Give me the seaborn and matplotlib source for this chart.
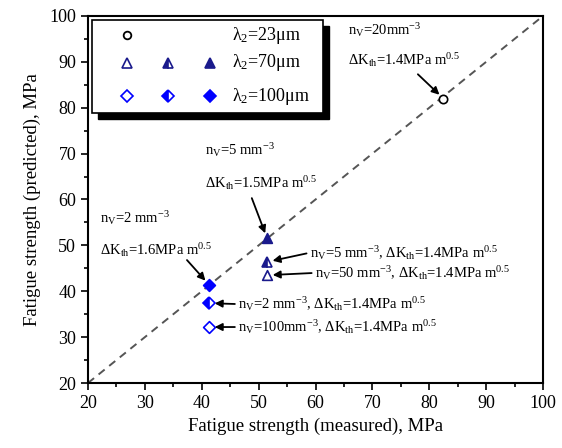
import matplotlib
matplotlib.use("Agg")
import matplotlib.pyplot as plt
import seaborn as sns
import pandas as pd
from matplotlib.patches import Rectangle
from matplotlib.ticker import MultipleLocator

# ---- data ----
meas_23 = [82.5]
pred_23 = [82.0]
meas_70 = [51.5, 51.5, 51.5]
pred_70 = [51.5, 46.4, 43.5]
fill_70 = ["full", "left", "none"]
meas_100 = [41.3, 41.3, 41.3]
pred_100 = [41.4, 37.4, 32.2]
fill_100 = ["full", "left", "none"]
diag = [20, 100]
xticks = [20, 30, 40, 50, 60, 70, 80, 90, 100]
yticks = [20, 30, 40, 50, 60, 70, 80, 90, 100]
legend_labels = [r"$\lambda_2$=23$\mu$m", r"$\lambda_2$=70$\mu$m", r"$\lambda_2$=100$\mu$m"]

sns.set_theme(style="ticks")
plt.rcParams["font.family"] = ["Liberation Serif", "DejaVu Serif"]
plt.rcParams["mathtext.fontset"] = "custom"
plt.rcParams["mathtext.rm"] = "Liberation Serif"
plt.rcParams["mathtext.it"] = "Liberation Serif:italic"
plt.rcParams["mathtext.default"] = "rm"
plt.rcParams["text.color"] = "black"
plt.rcParams["axes.labelcolor"] = "black"
plt.rcParams["xtick.color"] = "black"
plt.rcParams["ytick.color"] = "black"

fig = plt.figure(figsize=(5.62, 4.48), dpi=100)
ax = fig.add_axes([88/562, 1-383/448, 455/562, 367/448])

c70 = "#1a1a8c"
c100 = "#0000ff"

# diagonal
sns.lineplot(x=diag, y=diag, ax=ax, color="#555555", lw=1.4, linestyle=(0, (4, 3)), zorder=1)

def draw_points(xs, ys, fills, marker, color, ms):
    for x, y, f in zip(xs, ys, fills):
        if f == "full":
            sns.scatterplot(x=[x], y=[y], ax=ax, marker=marker, color=color,
                            s=ms**2, edgecolor=color, linewidth=1.2, zorder=3)
        elif f == "none":
            sns.scatterplot(x=[x], y=[y], ax=ax, marker=marker, facecolor="white",
                            s=ms**2, edgecolor=color, linewidth=1.2, zorder=3)
        else:
            ax.plot([x], [y], marker=marker, ms=ms, color=color, fillstyle="left",
                    markerfacecoloralt="white", mec=color, mew=1.2, ls="none", zorder=3)

draw_points(meas_23, pred_23, ["none"], "o", "black", 6)
draw_points(meas_70, pred_70, fill_70, "^", c70, 7)
draw_points(meas_100, pred_100, fill_100, "D", c100, 6)

ax.set_xlim(20, 100)
ax.set_ylim(20, 100)
ax.set_xticks(xticks)
ax.set_yticks(yticks)
ax.xaxis.set_minor_locator(MultipleLocator(5))
ax.yaxis.set_minor_locator(MultipleLocator(5))
ax.tick_params(which="major", direction="out", length=5, width=1.2, labelsize=13, colors="black")
ax.tick_params(which="minor", direction="out", length=3, width=1.2, colors="black")
for s in ax.spines.values():
    s.set_linewidth(1.5)
    s.set_color("black")
    s.set_visible(True)
ax.set_xlabel("Fatigue strength (measured), MPa", fontsize=13.5, labelpad=4)
ax.set_ylabel("Fatigue strength (predicted), MPa", fontsize=13.5, labelpad=6)

# ---- annotations ----
fs = 10.5
ap = dict(arrowstyle="-|>", color="black", lw=1.3, mutation_scale=11, shrinkA=0, shrinkB=4)
nv = lambda v: r"n$_\mathrm{V}$=" + v + r"mm$^{-3}$"
dk = lambda v: r"$\Delta$K$_\mathrm{th}$=" + v + r"MPa m$^{0.5}$"

# circle
ax.text(65.7, 96.9, nv("20"), fontsize=fs, va="center")
ax.text(65.7, 90.4, dk("1.4"), fontsize=fs, va="center")
ax.annotate("", xy=(meas_23[0], pred_23[0]), xytext=(78.0, 87.3), arrowprops=ap)
# filled triangle
ax.text(40.6, 70.8, nv("5 "), fontsize=fs, va="center")
ax.text(40.6, 63.6, dk("1.5"), fontsize=fs, va="center")
ax.annotate("", xy=(meas_70[0], pred_70[0]), xytext=(48.8, 60.3), arrowprops=ap)
# filled diamond
ax.text(22.1, 56.0, nv("2 "), fontsize=fs, va="center")
ax.text(22.1, 49.0, dk("1.6"), fontsize=fs, va="center")
ax.annotate("", xy=(meas_100[0], pred_100[0]), xytext=(37.4, 46.8), arrowprops=ap)

ap2 = dict(ap, relpos=(0, 0.5))
ax.annotate(nv("5 ") + ", " + dk("1.4"), xy=(meas_70[1], pred_70[1]), xytext=(59.0, 48.4),
            fontsize=fs, va="center", arrowprops=ap2)
ax.annotate(nv("50 ") + ", " + dk("1.4"), xy=(meas_70[2], pred_70[2]), xytext=(59.9, 44.0),
            fontsize=fs, va="center", arrowprops=ap2)
ax.annotate(nv("2 ") + ", " + dk("1.4"), xy=(meas_100[1], pred_100[1]), xytext=(46.4, 37.2),
            fontsize=fs, va="center", arrowprops=ap2)
ax.annotate(nv("100") + ", " + dk("1.4"), xy=(meas_100[2], pred_100[2]), xytext=(46.4, 32.2),
            fontsize=fs, va="center", arrowprops=ap2)

# ---- custom legend box with shadow ----
bx0, bx1 = 0.009, 0.516
by0, by1 = 0.736, 0.989
dx, dy = 6/455, 6/367
ax.add_patch(Rectangle((bx0 + dx, by0 - dy), bx1 - bx0, by1 - by0, transform=ax.transAxes,
                       facecolor="black", edgecolor="black", zorder=4, clip_on=False))
ax.add_patch(Rectangle((bx0, by0), bx1 - bx0, by1 - by0, transform=ax.transAxes,
                       facecolor="white", edgecolor="black", lw=1.2, zorder=5, clip_on=False))
colx = [0.086, 0.176, 0.268]
rowy = [0.948, 0.872, 0.782]
ax.plot([colx[0]], [rowy[0]], marker="o", ms=5.5, mfc="white", mec="black", mew=1.3,
        transform=ax.transAxes, zorder=6, ls="none", clip_on=False)
for (mk, col, ms), ry in [(("^", c70, 7), rowy[1]), (("D", c100, 6), rowy[2])]:
    for cx, f in zip(colx, ["none", "left", "full"]):
        if f == "none":
            ax.plot([cx], [ry], marker=mk, ms=ms, mfc="white", mec=col, mew=1.2,
                    transform=ax.transAxes, zorder=6, ls="none", clip_on=False)
        else:
            ax.plot([cx], [ry], marker=mk, ms=ms, color=col, fillstyle=f, markerfacecoloralt="white",
                    mec=col, mew=1.2, transform=ax.transAxes, zorder=6, ls="none", clip_on=False)
for lab, ry in zip(legend_labels, rowy):
    ax.text(0.316, ry, lab, fontsize=13, va="center", transform=ax.transAxes, zorder=6)

fig.savefig("out.png", dpi=100)
